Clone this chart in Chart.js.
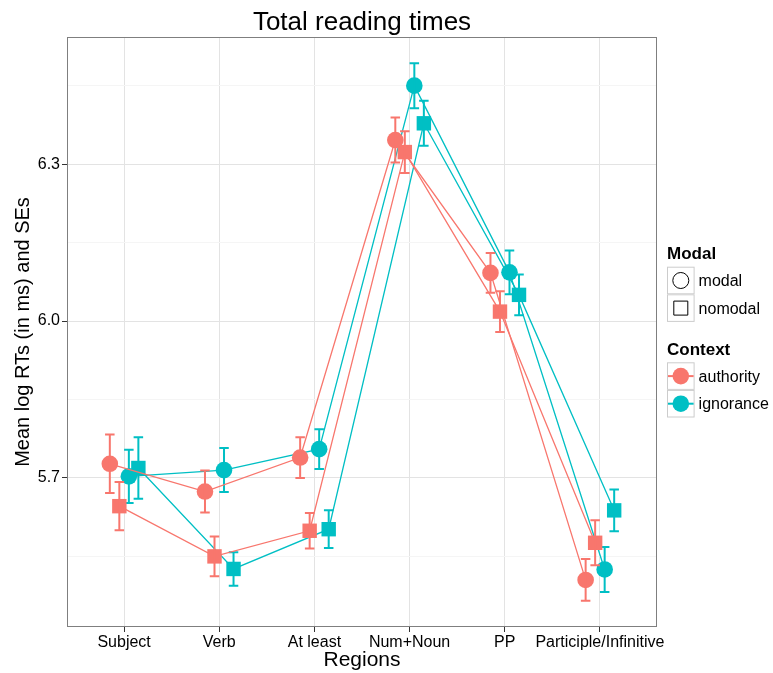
<!DOCTYPE html>
<html>
<head>
<meta charset="utf-8">
<title>Total reading times</title>
<script src="https://cdn.jsdelivr.net/npm/chart.js@4.4.1/dist/chart.umd.min.js"></script>
<style>
  html, body { margin: 0; padding: 0; background: #fff; }
  #wrap { position: relative; width: 773px; height: 673px; }
</style>
</head>
<body>
<div id="wrap"><canvas id="chart"></canvas></div>
<script>
var regions = ['Subject', 'Verb', 'At least', 'Num+Noun', 'PP', 'Participle/Infinitive'];
var yMajorTicks = [5.7, 6.0, 6.3];
var yTickLabels = ['5.7', '6.0', '6.3'];
var yMinorTicks = [5.55, 5.85, 6.15, 6.45];

// means and standard errors, one list per Context x Modal group
var authorityModal = [5.727, 5.674, 5.739, 6.346, 6.092, 5.505];
var authorityModalSE = [0.056, 0.040, 0.039, 0.043, 0.038, 0.040];
var authorityNomodal = [5.646, 5.550, 5.599, 6.323, 6.018, 5.576];
var authorityNomodalSE = [0.046, 0.038, 0.034, 0.040, 0.039, 0.043];
var ignoranceModal = [5.703, 5.715, 5.755, 6.450, 6.093, 5.525];
var ignoranceModalSE = [0.051, 0.042, 0.038, 0.043, 0.042, 0.043];
var ignoranceNomodal = [5.719, 5.526, 5.602, 6.378, 6.050, 5.638];
var ignoranceNomodalSE = [0.059, 0.032, 0.036, 0.043, 0.039, 0.040];

var modalLabels = ['modal', 'nomodal'];
var contextLabels = ['authority', 'ignorance'];

var colores = ['#F8766D', '#00BFC4'];
var family = '"Liberation Sans", Arial, Helvetica, sans-serif';

var grupos = [
    { valores: authorityModal, se: authorityModalSE, context: 0, modal: 0, dodge: -0.15 },
    { valores: authorityNomodal, se: authorityNomodalSE, context: 0, modal: 1, dodge: -0.05 },
    { valores: ignoranceModal, se: ignoranceModalSE, context: 1, modal: 0, dodge: 0.05 },
    { valores: ignoranceNomodal, se: ignoranceNomodalSE, context: 1, modal: 1, dodge: 0.15 }
];

function puntos(valores, dodge) {
    return valores.map(function (v, i) { return { x: i + dodge, y: v }; });
}

function esMayor(v) {
    for (var i = 0; i < yMajorTicks.length; i++) {
        if (Math.abs(yMajorTicks[i] - v) < 1e-6) return i;
    }
    return -1;
}

var datasets = grupos.map(function (g) {
    var color = colores[g.context];
    return {
        label: contextLabels[g.context] + ' ' + modalLabels[g.modal],
        data: puntos(g.valores, g.dodge),
        borderColor: color,
        backgroundColor: color,
        borderWidth: 1.3,
        pointStyle: g.modal == 0 ? 'circle' : 'rect',
        pointRadius: g.modal == 0 ? 8.3 : 10.2,
        pointBackgroundColor: color,
        pointBorderWidth: 0,
        pointHoverRadius: g.modal == 0 ? 8.3 : 10.2,
        tension: 0
    };
});

var errorBars = {
    id: 'errorBars',
    afterDatasetDraw: function (chart, args) {
        var g = grupos[args.index];
        var ctx = chart.ctx;
        var xs = chart.scales.x, ys = chart.scales.y;
        ctx.save();
        ctx.strokeStyle = colores[g.context];
        ctx.lineWidth = 2;
        g.valores.forEach(function (v, i) {
            var x = xs.getPixelForValue(i + g.dodge);
            var x1 = xs.getPixelForValue(i + g.dodge - 0.05);
            var x2 = xs.getPixelForValue(i + g.dodge + 0.05);
            var yt = ys.getPixelForValue(v + g.se[i]);
            var yb = ys.getPixelForValue(v - g.se[i]);
            ctx.beginPath();
            ctx.moveTo(x, yt); ctx.lineTo(x, yb);
            ctx.moveTo(x1, yt); ctx.lineTo(x2, yt);
            ctx.moveTo(x1, yb); ctx.lineTo(x2, yb);
            ctx.stroke();
        });
        ctx.restore();
    }
};

var panelBorder = {
    id: 'panelBorder',
    afterDraw: function (chart) {
        var a = chart.chartArea, ctx = chart.ctx;
        ctx.save();
        ctx.strokeStyle = '#7f7f7f';
        ctx.lineWidth = 1;
        ctx.strokeRect(Math.round(a.left) + 0.5, Math.round(a.top) + 0.5,
            Math.round(a.right - a.left) - 1, Math.round(a.bottom - a.top) - 1);
        ctx.restore();
    }
};

var legendBox = {
    id: 'legendBox',
    afterDraw: function (chart) {
        var ctx = chart.ctx;
        var x0 = chart.chartArea.right + 10;
        var key = 27.6;
        ctx.save();

        function caja(y) {
            ctx.fillStyle = '#fff';
            ctx.fillRect(x0, y, key, key);
            ctx.strokeStyle = '#cccccc';
            ctx.lineWidth = 1;
            ctx.strokeRect(x0 + 0.5, y + 0.5, key - 1, key - 1);
        }
        function texto(t, y) {
            ctx.fillStyle = '#000';
            ctx.font = '16px ' + family;
            ctx.textBaseline = 'middle';
            ctx.fillText(t, x0 + key + 4, y + key / 2 + 1);
        }

        ctx.fillStyle = '#000';
        ctx.textBaseline = 'alphabetic';
        ctx.font = 'bold 17px ' + family;
        ctx.fillText('Modal', x0, 259);

        var y = 266.7;
        modalLabels.forEach(function (lab, i) {
            caja(y);
            var cx = x0 + key / 2, cy = y + key / 2;
            ctx.strokeStyle = '#000';
            ctx.lineWidth = 1;
            ctx.beginPath();
            if (i == 0) ctx.arc(cx, cy, 8, 0, Math.PI * 2);
            else ctx.rect(cx - 7, cy - 7, 14, 14);
            ctx.stroke();
            texto(lab, y);
            y += key;
        });

        ctx.fillStyle = '#000';
        ctx.textBaseline = 'alphabetic';
        ctx.font = 'bold 17px ' + family;
        ctx.fillText('Context', x0, 355);

        y = 362.3;
        contextLabels.forEach(function (lab, i) {
            caja(y);
            var cx = x0 + key / 2, cy = y + key / 2;
            ctx.strokeStyle = colores[i];
            ctx.fillStyle = colores[i];
            ctx.lineWidth = 2;
            ctx.beginPath();
            ctx.moveTo(x0 + 1, cy); ctx.lineTo(x0 + key - 1, cy);
            ctx.stroke();
            ctx.beginPath();
            ctx.arc(cx, cy, 8.3, 0, Math.PI * 2);
            ctx.fill();
            texto(lab, y);
            y += key;
        });
        ctx.restore();
    }
};

Chart.defaults.font.family = family;
Chart.defaults.color = '#000';

var ctx = document.getElementById('chart').getContext('2d');
window.chart = new Chart(ctx, {
    type: 'line',
    data: { datasets: datasets },
    options: {
        responsive: true,
        maintainAspectRatio: false,
        animation: false,
        layout: { padding: { left: 0, right: 116, top: 0, bottom: 0 } },
        plugins: {
            legend: { display: false },
            tooltip: { enabled: false },
            title: {
                display: true,
                text: 'Total reading times',
                fullSize: false,
                color: '#000',
                font: { size: 26, weight: 'normal', lineHeight: 1 },
                padding: { top: 10, bottom: 1 }
            }
        },
        scales: {
            x: {
                type: 'linear',
                min: -0.6,
                max: 5.6,
                afterBuildTicks: function (axis) {
                    axis.ticks = regions.map(function (r, i) { return { value: i }; });
                },
                afterFit: function (axis) { axis.height = 46; },
                ticks: {
                    autoSkip: false,
                    maxRotation: 0,
                    padding: 1,
                    color: '#000',
                    font: { size: 16 },
                    callback: function (value) { return regions[Math.round(value)]; }
                },
                grid: { color: '#e3e3e3', tickColor: '#333', tickLength: 5, lineWidth: 1 },
                border: { display: false },
                title: { display: true, text: 'Regions', color: '#000', font: { size: 21 }, padding: 0 }
            },
            y: {
                type: 'linear',
                min: 5.415,
                max: 6.543,
                afterBuildTicks: function (axis) {
                    axis.ticks = yMinorTicks.concat(yMajorTicks).sort().map(function (v) { return { value: v }; });
                },
                afterFit: function (axis) { axis.width = 67; },
                ticks: {
                    autoSkip: false,
                    padding: 2,
                    color: '#000',
                    font: { size: 16 },
                    callback: function (value) {
                        var k = esMayor(value);
                        return k >= 0 ? yTickLabels[k] : '';
                    }
                },
                grid: {
                    color: function (c) { return c.tick && esMayor(c.tick.value) >= 0 ? '#e3e3e3' : '#f5f5f5'; },
                    tickColor: function (c) { return c.tick && esMayor(c.tick.value) >= 0 ? '#333' : 'rgba(0,0,0,0)'; },
                    tickLength: 5,
                    lineWidth: 1
                },
                border: { display: false },
                title: { display: true, text: 'Mean log RTs (in ms) and SEs', color: '#000', font: { size: 20 }, padding: { top: 11, bottom: 0 } }
            }
        }
    },
    plugins: [errorBars, panelBorder, legendBox]
});
</script>
</body>
</html>
